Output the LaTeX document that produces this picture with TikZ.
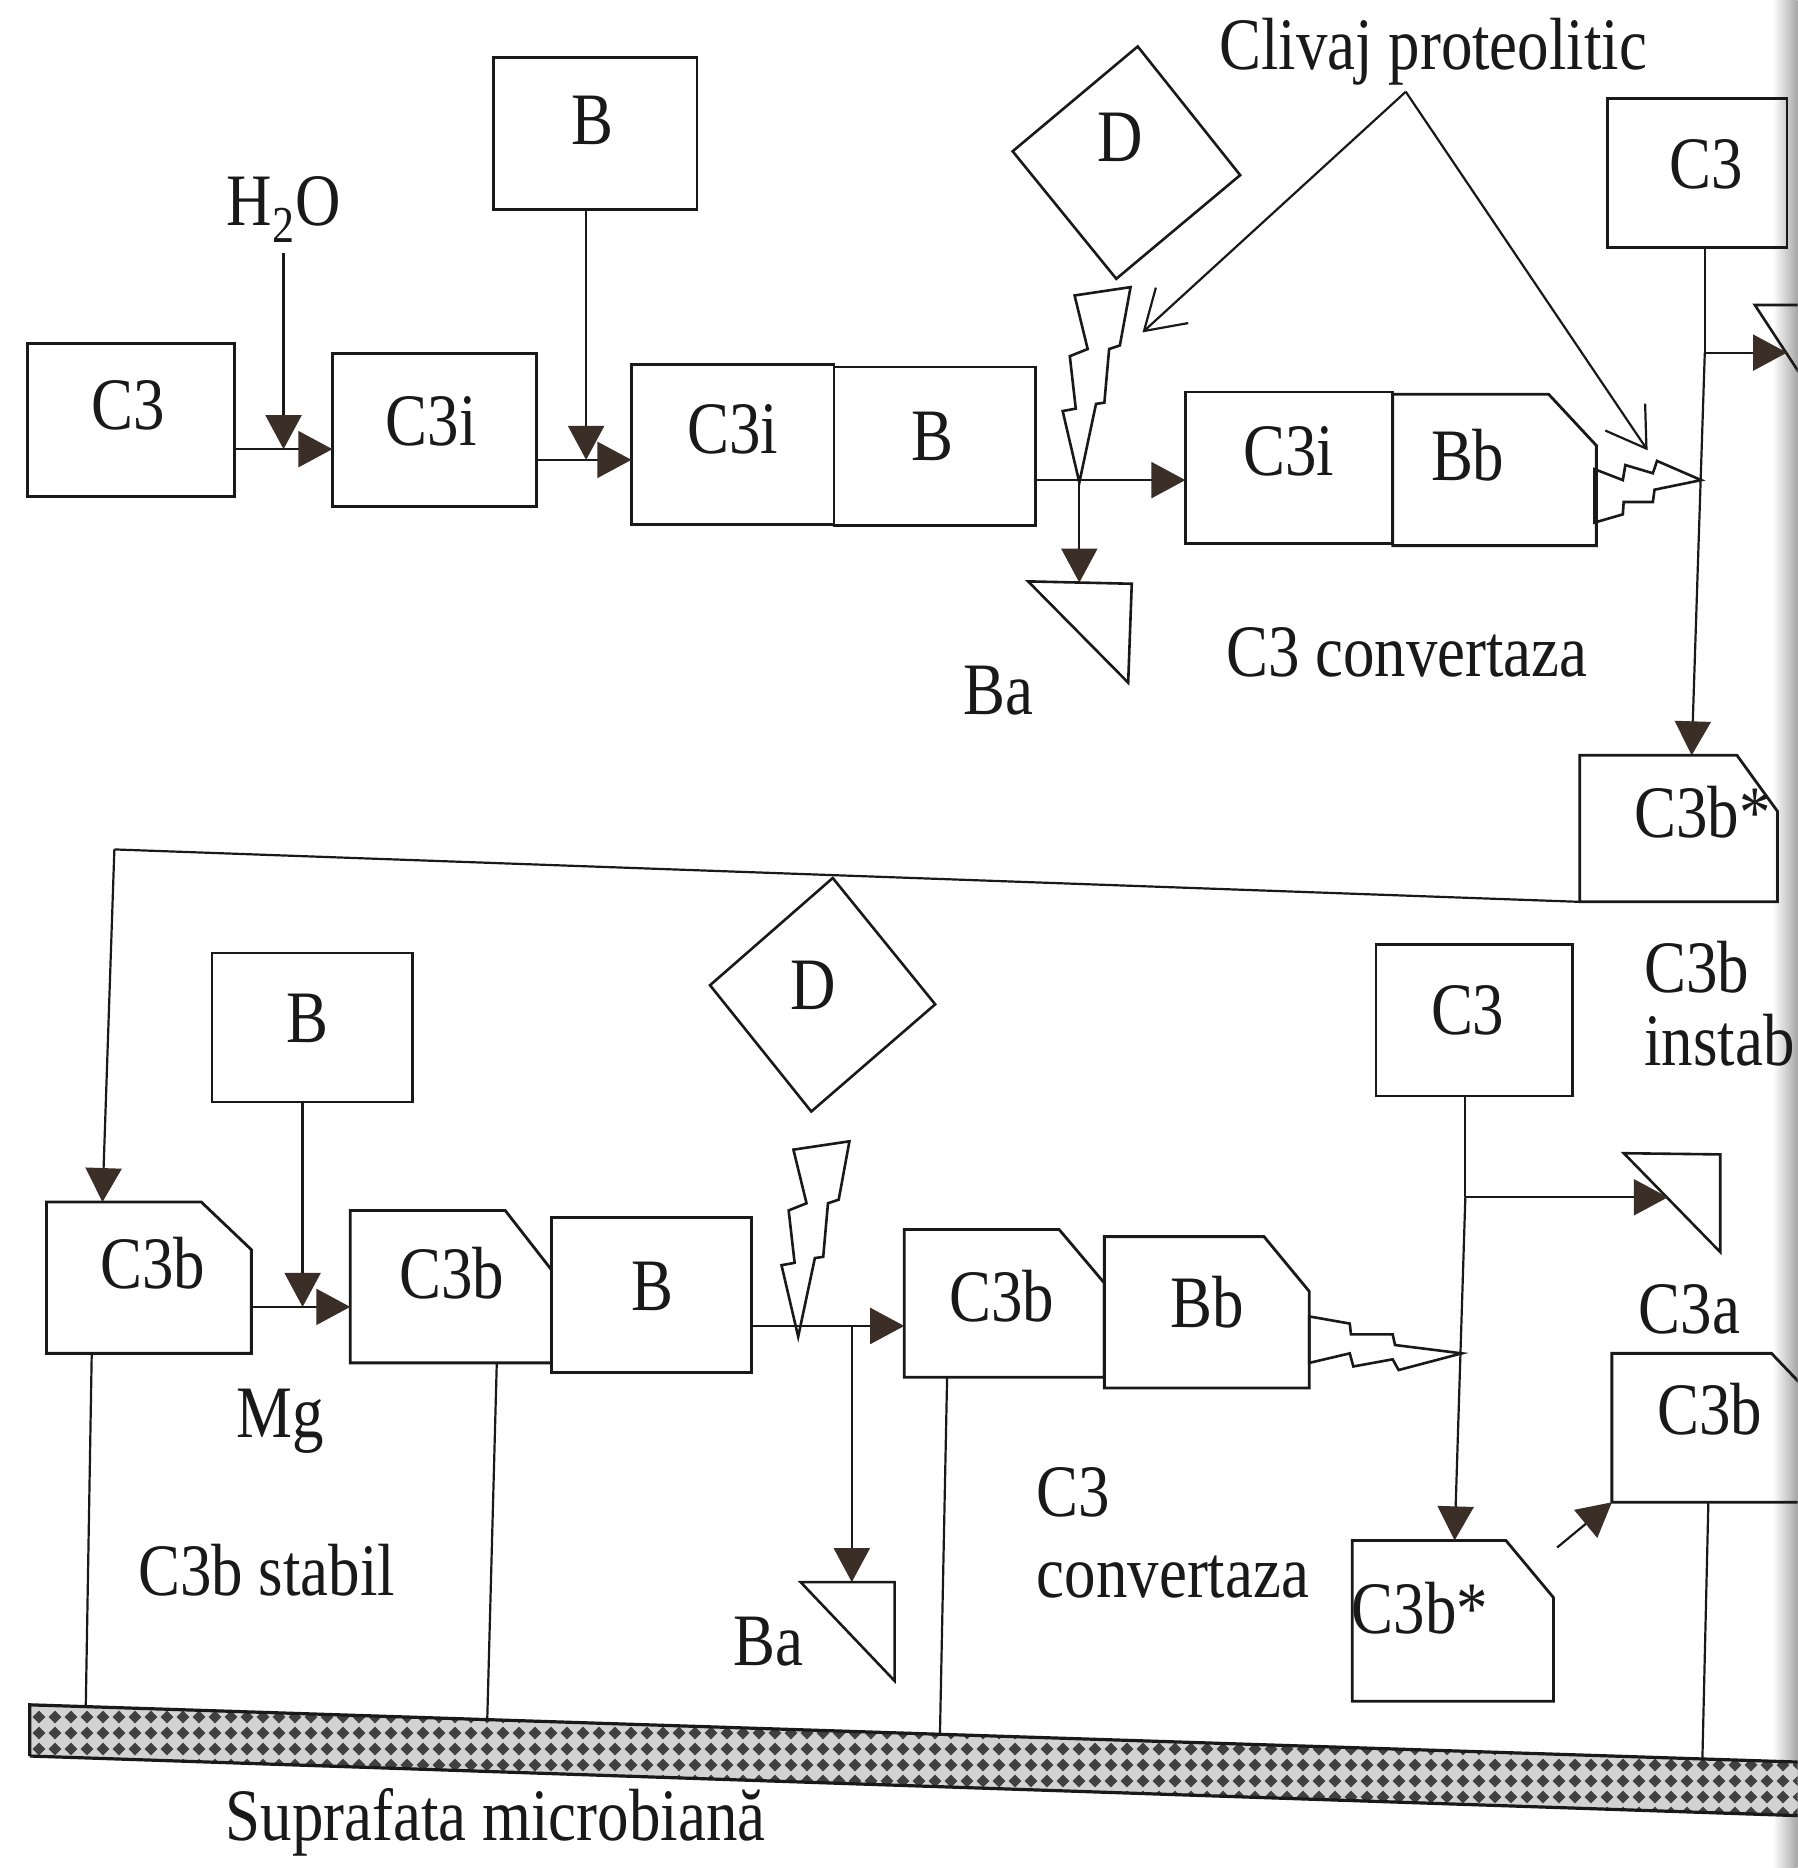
\documentclass[tikz,border=0pt]{standalone}
\usepackage{fontspec}
\setmainfont{Liberation Serif}[FakeStretch=0.85]
\usetikzlibrary{arrows.meta,calc,patterns,patterns.meta}
\definecolor{linec}{RGB}{25,25,25}
\definecolor{arrowc}{RGB}{58,46,38}
\newcommand\lblfont{\fontsize{37}{40}\selectfont}
\newcommand\un{0.5958pt}
\newcommand\chamf[3]{\draw[boxl,line join=miter] (#1.north west) -- ($(#1.north east)+(-#2,0)$) -- ($(#1.north east)+(0,#3)$) -- (#1.south east) -- (#1.south west) -- cycle;}
\tikzdeclarepattern{
  name=surfpat,
  type=uncolored,
  bounding box={(0pt,0pt) and (8pt,8pt)},
  tile size={(8pt,8pt)},
  code={
    \pgfpathmoveto{\pgfqpoint{4pt}{0.8pt}}
    \pgfpathlineto{\pgfqpoint{7.2pt}{4pt}}
    \pgfpathlineto{\pgfqpoint{4pt}{7.2pt}}
    \pgfpathlineto{\pgfqpoint{0.8pt}{4pt}}
    \pgfpathclose
    \pgfusepath{fill}
  }
}
\tikzset{
  boxl/.style={draw=linec,line width=1.4pt},
  bx/.style 2 args={boxl,minimum width=#1*\un,minimum height=#2*\un,inner sep=0pt,outer sep=0pt},
  hb/.style 2 args={minimum width=#1*\un,minimum height=#2*\un,inner sep=0pt,outer sep=0pt},
  txt/.style={font=\lblfont,inner sep=0pt,text=black!90},
  ln/.style={draw=linec,line width=1.1pt},
  arr/.style={ln,-{Triangle[length=17pt,width=18pt,color=arrowc,fill=arrowc]}},
  oarr/.style={ln,-{Straight Barb[length=19pt,width=24pt,line width=1.1pt]}},
  shp/.style={draw=linec,line width=1.3pt,line join=miter},
  vbolt/.pic={\draw[shp] (0,0) -- (-14,-60) -- (-3,-62) -- (-8,-106) -- (7,-112) -- (-4,-157) -- (43,-164) -- (34,-115) -- (25,-112) -- (21,-67) -- (14,-66) -- cycle;},
  hbolt/.pic={\draw[shp] (0,0) -- (-56,-7) -- (-58,-16) -- (-93,-16) -- (-94,-25) -- (-128,-31) -- (-128,8) -- (-94,0) -- (-91,11) -- (-58,5) -- (-53,14) -- cycle;}
}
\begin{document}
\begin{tikzpicture}[x=0.5958pt,y=-0.5958pt]
\useasboundingbox (0,0) rectangle (1509,1568);
\clip (0,0) rectangle (1509,1568);
\fill[white] (0,0) rectangle (1509,1568);
\shade[left color=white,right color=black!35] (1488,0) rectangle (1509,1568);

% ---------- top row ----------
\node[bx={174}{129}] (c3A) at (110,352.5) {};
\node[txt] (tc3A) at (108,340) {C3};
\node[txt] (h2o) at (238,176) {H\textsubscript{2}O};
\node[bx={171}{128}] (c3iA) at (364.5,361) {};
\node[txt] (tc3iA) at (362,354) {C3i};
\node[bx={171}{128}] (bT) at (499.5,112) {};
\node[txt] (tbT) at (497,101) {B};
\node[bx={170}{134}] (c3iB1) at (615,373) {};
\node[txt] (tc3iB1) at (615,360) {C3i};
\node[bx={169}{133}] (c3iB2) at (784.5,374.5) {};
\node[txt] (tc3iB2) at (783,366) {B};
\node[bx={174}{127}] (c3iBb1) at (1082,392.5) {};
\node[txt] (tc3iBb1) at (1082,379) {C3i};
\node[hb={171}{127}] (c3iBb2) at (1254.5,394.5) {};
\chamf{c3iBb2}{40}{43}
\node[txt] (tc3iBb2) at (1232,382) {Bb};
\node[txt] (tconvT) at (1181,548) {C3 convertaza};

\coordinate (j0) at (238,377);
\draw[arr] (c3A.east |- j0) -- (c3iA.west |- j0);
\draw[arr] ([yshift=-5pt]h2o.south) -- (j0);
\coordinate (j1) at (492,386);
\draw[arr] (c3iA.east |- j1) -- (c3iB1.west |- j1);
\draw[arr] (bT.south -| j1) -- (j1);

% D top and cleavage
\draw[shp] (955,39) -- (1041,147) -- (937,234) -- (850,127) -- cycle;
\node[txt] (dT) at (940,115) {D};
\pic at (906,405) {vbolt};
\coordinate (j2) at (906,403);
\coordinate (baTtop) at (906,489);
\draw[ln] (c3iB2.east |- j2) -- (j2);
\draw[arr] (j2) -- (c3iBb1.west |- j2);
\draw[arr] (j2) -- (baTtop);
\draw[shp] (863,488) -- (950,490) -- (947,573) -- cycle;
\node[txt] (baT) at (838,580) {Ba};

\node[txt,anchor=base] (cliv) at (1203,58) {Clivaj proteolitic};
\coordinate (apex) at (1180,77);
\coordinate (clA) at (959,279);
\coordinate (clB) at (1383,378);
\draw[oarr] (apex) -- (clA);
\draw[oarr] (apex) -- (clB);

% top right
\node[bx={151}{125}] (c3T) at (1424.5,145.5) {};
\node[txt] (tc3T) at (1432,138) {C3};
\coordinate (j3) at (1431,296);
\coordinate (v1end) at (1420,634);
\coordinate (c3aTtip) at (1500,296);
\draw[shp] (1473,256) -- (1530,256) -- (1530,343) -- cycle;
\draw[ln] (c3T.south -| j3) -- (j3);
\draw[arr] (j3) -- (v1end);
\draw[arr] (j3) -- (c3aTtip);
\pic[xscale=0.7,yscale=-1.15] at (1428,403) {hbolt};

\node[hb={166}{123}] (c3bsA) at (1409,695.5) {};
\chamf{c3bsA}{34}{47}
\node[txt] (tc3bsA) at (1429,682) {C3b*};
\node[txt,anchor=west] (tc3bI) at (1380,812) {C3b};
\node[txt,anchor=west] (tinst) at (1380,873) {instab};

% long connector
\coordinate (lc) at (96,713);
\coordinate (lcEnd) at (86,1009);
\draw[ln] (c3bsA.south west) -- (lc);
\draw[arr] (lc) -- (lcEnd);

% ---------- bottom row ----------
\node[bx={168}{125}] (bB) at (262,862.5) {};
\node[txt] (tbB) at (258,855) {B};
\node[hb={172}{127}] (c3bL) at (125,1072.5) {};
\chamf{c3bL}{42}{40}
\node[txt] (tc3bL) at (128,1060) {C3b};
\node[hb={169}{128}] (c3bB1) at (378.5,1080) {};
\chamf{c3bB1}{39}{50}
\node[txt] (tc3bB1) at (379,1069) {C3b};
\node[bx={168}{130}] (c3bB2) at (547,1087) {};
\node[txt] (tc3bB2) at (548,1080) {B};
\node[hb={168}{124}] (c3bBb1) at (843,1094) {};
\chamf{c3bBb1}{38}{45}
\node[txt] (tc3bBb1) at (841,1088) {C3b};
\node[hb={172}{127}] (c3bBb2) at (1013,1101.5) {};
\chamf{c3bBb2}{38}{46}
\node[txt] (tc3bBb2) at (1013,1093) {Bb};
\node[bx={165}{127}] (c3Bot) at (1237.5,856.5) {};
\node[txt] (tc3Bot) at (1232,848) {C3};
\node[hb={177}{125}] (c3bR) at (1441.5,1198.5) {};
\chamf{c3bR}{43}{45}
\node[txt] (tc3bR) at (1435,1183) {C3b};
\node[hb={169}{135}] (c3bsB) at (1219.5,1360.5) {};
\chamf{c3bsB}{40}{48}
\node[txt] (tc3bsB) at (1192,1350) {C3b*};

\node[txt,anchor=base] (mg) at (235,1207) {Mg};
\node[txt] (stab) at (224,1318) {C3b stabil};
\node[txt,anchor=west] (tcv1) at (870,1253) {C3};
\node[txt,anchor=west] (tcv2) at (870,1324) {convertaza};
\node[txt] (c3aB) at (1418,1099) {C3a};

\coordinate (j4) at (254,1097);
\draw[arr] (c3bL.east |- j4) -- (c3bB1.west |- j4);
\draw[arr] (bB.south -| j4) -- (j4);

\draw[shp] (699,737) -- (785,843) -- (681,933) -- (596,827) -- cycle;
\node[txt] (dB) at (683,827) {D};
\pic at (670,1122) {vbolt};
\coordinate (j5) at (715,1113);
\coordinate (baBtop) at (715,1328);
\draw[ln] (c3bB2.east |- j5) -- (j5);
\draw[arr] (j5) -- (c3bBb1.west |- j5);
\draw[arr] (j5) -- (baBtop);
\draw[shp] (672,1328) -- (751,1328) -- (751,1411) -- cycle;
\node[txt] (baB) at (645,1378) {Ba};

\pic at (1227,1136) {hbolt};
\coordinate (j6) at (1230,1005);
\coordinate (c3aBtip) at (1400,1005);
\coordinate (v2end) at (1221,1293);
\draw[shp] (1363,968) -- (1444,969) -- (1444,1051) -- cycle;
\draw[ln] (c3Bot.south -| j6) -- (j6);
\draw[arr] (j6) -- (c3aBtip);
\draw[arr] (j6) -- (v2end);
\coordinate (sa) at (1307,1299);
\draw[arr] (sa) -- (c3bR.south west);

% anchoring lines to the surface
\coordinate (t1) at (77,1136);  \coordinate (s1) at (72,1432.5);
\coordinate (t2) at (417,1144); \coordinate (s2) at (409,1443.4);
\coordinate (t3) at (795,1156); \coordinate (s3) at (789,1455.7);
\coordinate (t4) at (1434,1261);\coordinate (s4) at (1429,1476.4);
\draw[ln] (t1) -- (s1);
\draw[ln] (t2) -- (s2);
\draw[ln] (t3) -- (s3);
\draw[ln] (t4) -- (s4);

% microbial surface
\path[preaction={fill=gray!35},pattern=surfpat,pattern color=black!75]
  (25,1431) -- (1520,1479.4) -- (1520,1524.4) -- (25,1474) -- cycle;
\draw[linec,line width=1.6pt] (25,1474) -- (25,1431) -- (1520,1479.4);
\draw[linec,line width=1.6pt] (25,1474) -- (1520,1524.4);
\node[txt,anchor=base] (supr) at (416,1545) {Suprafata microbiană};
\end{tikzpicture}
\end{document}
